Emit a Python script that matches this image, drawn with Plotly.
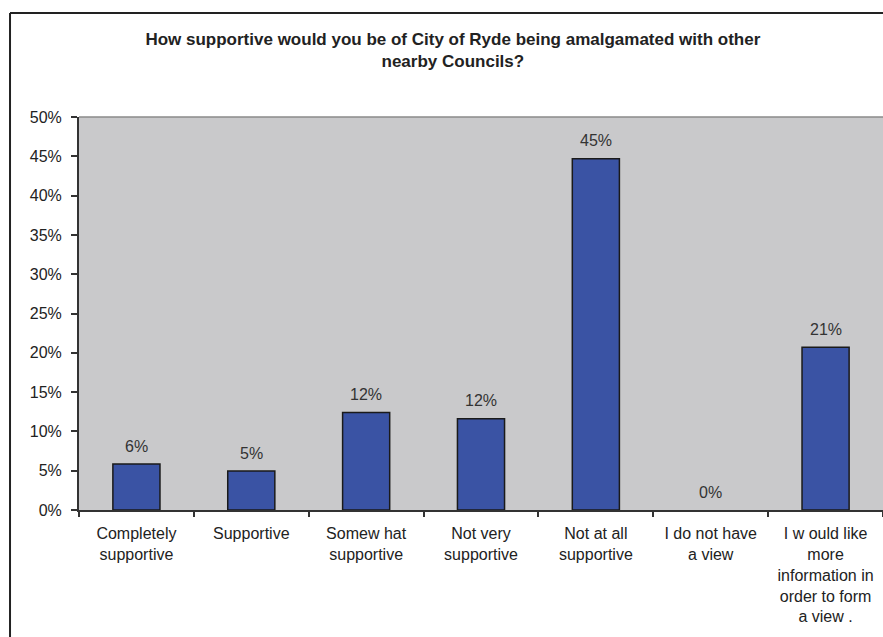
import plotly.graph_objects as go

categories = [
    "Completely<br>supportive",
    "Supportive",
    "Somew hat<br>supportive",
    "Not very<br>supportive",
    "Not at all<br>supportive",
    "I do not have<br>a view",
    "I w ould like<br>more<br>information in<br>order to form<br>a view .",
]
values = [5.85, 4.96, 12.4, 11.6, 44.7, 0.0, 20.7]
labels = ["6%", "5%", "12%", "12%", "45%", "0%", "21%"]
y_ticks = [0, 5, 10, 15, 20, 25, 30, 35, 40, 45, 50]
y_tick_text = [f"{t}%" for t in y_ticks]

title_text = ("How supportive would you be of City of Ryde being amalgamated with other"
              "<br>nearby Councils?")

FONT = "Liberation Sans, Arial, sans-serif"

fig = go.Figure()
fig.add_trace(go.Bar(
    x=categories,
    y=values,
    marker=dict(color="#3A53A4",
                line=dict(color="#1a1a1a",
                          width=[1.5 if v > 0 else 0 for v in values])),
    width=0.41,
    hoverinfo="skip",
))

annotations = [
    dict(x=c, y=v, xref="x", yref="y", text=t, showarrow=False,
         yanchor="middle", yshift=18,
         font=dict(family=FONT, size=16, color="#333333"))
    for c, v, t in zip(categories, values, labels)
]

fig.update_layout(
    width=883,
    height=637,
    margin=dict(l=79, r=0, t=117, b=127),
    paper_bgcolor="white",
    plot_bgcolor="#C9C9CB",
    showlegend=False,
    annotations=annotations,
    title=dict(
        text=title_text,
        font=dict(family=FONT, size=17, color="#222222", weight="bold"),
        x=0.465, xref="paper", xanchor="center",
        y=0.929, yref="container", yanchor="middle",
    ),
    xaxis=dict(
        type="category",
        showgrid=False,
        showline=True,
        linecolor="#333333",
        linewidth=2,
        ticks="outside",
        tickson="boundaries",
        ticklen=5,
        tickwidth=1.5,
        tickcolor="#333333",
        ticklabelstandoff=8,
        tickfont=dict(family=FONT, size=16, color="#222222"),
        zeroline=False,
        fixedrange=True,
    ),
    yaxis=dict(
        range=[0, 50],
        tickvals=y_ticks,
        ticktext=y_tick_text,
        showgrid=False,
        showline=True,
        linecolor="#333333",
        linewidth=2,
        ticks="outside",
        ticklen=6,
        tickwidth=1.5,
        tickcolor="#333333",
        ticklabelstandoff=6,
        tickfont=dict(family=FONT, size=16, color="#222222"),
        zeroline=False,
        fixedrange=True,
    ),
    shapes=[
        # plot-area top border
        dict(type="line", xref="paper", yref="paper", x0=0, x1=1, y0=1, y1=1,
             line=dict(color="#8a8a8a", width=1.5)),
        # outer chart frame (left and top edges visible)
        dict(type="line", xref="paper", yref="paper", x0=-0.0858, x1=-0.0858,
             y0=-1, y1=1.2646, line=dict(color="#222222", width=2)),
        dict(type="line", xref="paper", yref="paper", x0=-0.0858, x1=1.2,
             y0=1.2646, y1=1.2646, line=dict(color="#222222", width=2)),
    ],
)

fig.write_html("out.html")
